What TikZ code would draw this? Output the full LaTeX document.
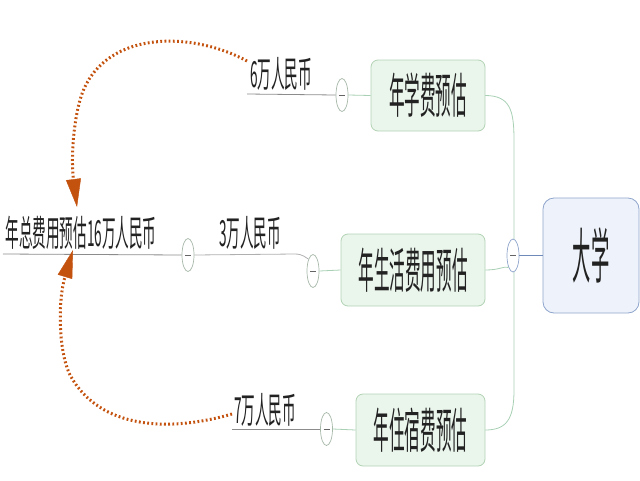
\documentclass[tikz,border=0pt]{standalone}
\usepackage{fontspec}
\usetikzlibrary{arrows.meta,shapes.geometric}
\newfontfamily\boxfont[FakeStretch=0.325]{Noto Sans CJK SC}
\newfontfamily\labfont[FakeStretch=0.378]{Noto Sans CJK SC}
\newfontfamily\rootfont[FakeStretch=0.305]{Noto Sans CJK SC}
\definecolor{gborder}{HTML}{B2D3B4}
\definecolor{gfill}{HTML}{EAF5EC}
\definecolor{bborder}{HTML}{8FA5CC}
\definecolor{bfill}{HTML}{EEF3FB}
\definecolor{txt}{HTML}{222222}
\definecolor{orng}{HTML}{C4520F}
\definecolor{gline}{HTML}{A8D0B4}
\definecolor{bline}{HTML}{6F89B8}
\definecolor{uln}{HTML}{8C8C8C}
\definecolor{ellg}{HTML}{A6B8A8}
\begin{document}
\begin{tikzpicture}[x=1pt,y=-1pt,
  gbox/.style={draw=gborder, fill=gfill, rounded corners=7pt, line width=0.8pt, inner sep=0pt,
    text=txt, font=\boxfont\fontsize{48}{50}\selectfont},
  rootbox/.style={draw=bborder, fill=bfill, rounded corners=11pt, line width=0.8pt, inner sep=0pt,
    text=txt, font=\rootfont\fontsize{60}{62}\selectfont},
  lab/.style={inner sep=0pt, text=txt, font=\labfont\fontsize{36}{38}\selectfont},
  coll/.style={ellipse, draw=#1, fill=white, line width=0.7pt, minimum width=12pt, minimum height=33pt, inner sep=0pt,
    path picture={\draw[line width=1pt, txt!70] ([xshift=-3pt]path picture bounding box.center) -- ([xshift=3pt]path picture bounding box.center);}},
  coll/.default=ellg,
  gconn/.style={draw=gline, line width=0.8pt},
  uline/.style={draw=uln, line width=0.8pt},
  dotarrow/.style={draw=orng, line width=3pt, dash pattern=on 1.8pt off 2.4pt,
    -{Triangle[length=28pt,width=15pt,line width=0.4pt]}}
]
\useasboundingbox (0,0) rectangle (640,480);

% spine
\draw[gconn] (485,95.5) .. controls (510,95.5) and (514,110) .. (514,140) -- (514,390) .. controls (514,420) and (506,430) .. (485,430);

% boxes
\node[gbox, minimum width=114pt, minimum height=71pt] (A) at (428,95.5) {年学费预估};
\node[gbox, minimum width=144pt, minimum height=72pt] (B) at (413,270) {年生活费用预估};
\node[gbox, minimum width=129pt, minimum height=72pt] (C) at (420.5,430) {年住宿费预估};
\node[rootbox, minimum width=96pt, minimum height=115pt] (U) at (591,255.5) {大学};

% collapse markers
\node[coll=bborder] (E0) at (513,255.5) {};
\node[coll] (E1) at (342,95) {};
\node[coll] (E2) at (188,255) {};
\node[coll] (E3) at (313,271) {};
\node[coll] (E4) at (326.5,429) {};

% connectors
\draw[gconn] (B.east) .. controls (500,270) and (503,266) .. (E0.south west);
\draw[draw=bline, line width=0.8pt] (E0.east) -- (U.west);
\draw[gconn] (E1.east) -- (A.west);
\draw[gconn] (E3.east) -- (B.west);
\draw[gconn] (E4.east) -- (C.west);

% labels
\node[lab] (L1) at (281,74) {6万人民币};
\node[lab] (L2) at (250,233) {3万人民币};
\node[lab] (L3) at (265,410) {7万人民币};
\node[lab] (T) at (81,233) {年总费用预估16万人民币};

\coordinate (u1) at (247,94);
\coordinate (u2) at (3,254);
\coordinate (u3) at (232,429);
\draw[uline] (u1) -- (E1.west);
\draw[uline] (u2) -- (E2.west);
\draw[uline, draw=uln!70] (E2.east) -- (295,254) .. controls (303,254) and (306,258) .. (E3.north west);
\draw[uline] (u3) -- (E4.west);

% dotted arrows
\coordinate (s1) at (247,61);
\coordinate (t1) at (77,207);
\coordinate (s3) at (232,414);
\coordinate (t3) at (73,250);
\draw[dotarrow] (s1) .. controls (190,30) and (100,30) .. (80,100) .. controls (73,125) and (71,160) .. (t1);
\draw[dotarrow] (s3) .. controls (170,432) and (100,430) .. (70,375) .. controls (58,350) and (58,300) .. (t3);
\end{tikzpicture}
\end{document}
